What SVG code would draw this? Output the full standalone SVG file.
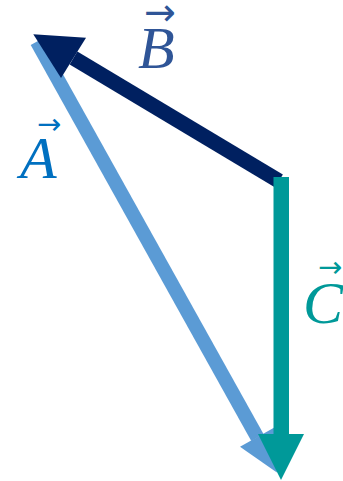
<svg xmlns="http://www.w3.org/2000/svg" width="343" height="481" viewBox="0 0 343 481">
  <style>
    .lbl { font-family: "Liberation Serif", "DejaVu Serif", serif; font-style: italic; font-size: 60px; }
    .vec { font-family: "DejaVu Sans", sans-serif; font-style: normal; font-size: 29px; }
    .shaft { fill: none; stroke-linecap: butt; }
  </style>
  <rect width="343" height="481" fill="#ffffff"/>
  <g id="connectors">
    <g id="vector-A">
      <line class="shaft" x1="36.8" y1="41.6" x2="257.4" y2="437.5" stroke="#5B9BD5" stroke-width="14"/>
      <polygon points="276.9,472.5 240,446.7 274.8,427.3" fill="#5B9BD5"/>
    </g>
    <g id="vector-B">
      <line class="shaft" x1="279" y1="181" x2="73.5" y2="58" stroke="#002060" stroke-width="15"/>
      <polygon points="33.3,34.3 86,37.7 61,78" fill="#002060"/>
    </g>
    <g id="vector-C">
      <rect x="273.5" y="177" width="15.5" height="258" fill="#009999"/>
      <polygon points="258,434 304,434 281,480" fill="#009999"/>
    </g>
  </g>
  <g id="label-A">
    <text class="lbl" fill="#0070C0"><tspan class="vec" x="37" y="134">→</tspan><tspan x="20" y="178">A</tspan></text>
  </g>
  <g id="label-B">
    <text class="lbl" fill="#2F5597"><tspan class="vec" x="144" y="25" style="font-size:38px">→</tspan><tspan x="138" y="68">B</tspan></text>
  </g>
  <g id="label-C">
    <text class="lbl" fill="#009999"><tspan class="vec" x="318" y="277">→</tspan><tspan x="303" y="323">C</tspan></text>
  </g>
</svg>
